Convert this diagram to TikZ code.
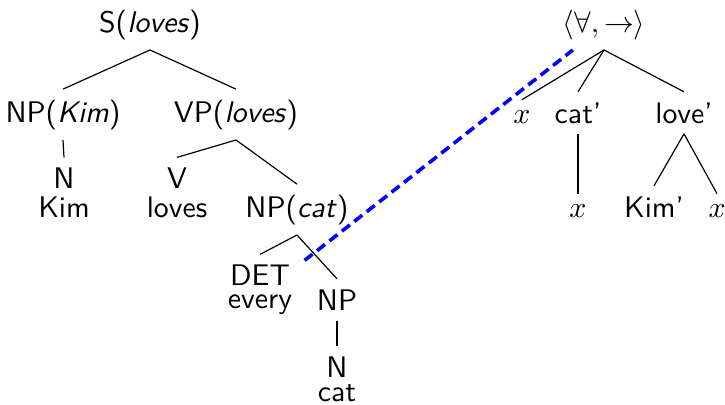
\documentclass[tikz,border=0pt]{standalone}
\usetikzlibrary{calc}
\begin{document}
\begin{tikzpicture}[x=0.3356pt,y=-0.3356pt,
  font=\sffamily,
  lab/.style={anchor=base},
  lex/.style={anchor=north,align=center},
  edge/.style={draw=black,line width=0.4pt},
  blueline/.style={draw=blue,line width=1.2pt,dash pattern=on 3.4pt off 1.9pt}]
\useasboundingbox (0,0) rectangle (725,404);
% left tree
\node[lab] (S) at (150,32) {S(\textit{loves})};
\node[lab] (NPK) at (63,122) {NP(\textit{Kim})};
\node[lab] (VP) at (236,122) {VP(\textit{loves})};
\node[lex] (NK) at (64,157.4) {N\\[-2.3pt]Kim};
\node[lex] (V) at (177,157.4) {V\\[-2.3pt]loves};
\node[lab] (NPc) at (297,217) {NP(\textit{cat})};
\node[lex] (DET) at (260,254.4) {DET\\[-4.3pt]every};
\node[lab] (NPl) at (337,310) {NP};
\node[lex] (Nl) at (337,346.4) {N\\[-4pt]cat};
\draw[edge] (S.south) -- (NPK.north);
\draw[edge] (S.south) -- (VP.north);
\draw[edge] (NPK.south) -- (NK.north);
\draw[edge] (VP.south) -- (V.north);
\draw[edge] (VP.south) -- (NPc.north);
\draw[edge] (NPc.south) -- (DET.north);
\draw[edge] (NPc.south) -- (NPl.north);
\draw[edge] (NPl.south) -- (Nl.north);
% right tree
\node[lab] (fa) at (604,32) {$\langle\forall,\rightarrow\rangle$};
\node[lab] (x1) at (522,123) {$x$};
\node[lab] (catp) at (578,123) {cat'};
\node[lab] (lovep) at (684,123) {love'};
\node[lab] (x2) at (578,217) {$x$};
\node[lab] (Kimp) at (654,217) {Kim'};
\node[lab] (x3) at (717,217) {$x$};
\draw[edge] (fa.south) -- (x1.north);
\draw[edge] (fa.south) -- (catp.north);
\draw[edge] (fa.south) -- (lovep.north);
\draw[edge] (catp.south) -- (x2.north);
\draw[edge] (lovep.south) -- (Kimp.north);
\draw[edge] (lovep.south) -- (x3.north);
% link
\coordinate (detend) at ($(DET.north east)+(2,6)$);
\coordinate (faend) at ($(fa.south west)!0.4!(fa.south)$);
\draw[blueline] (detend) -- (faend);
\end{tikzpicture}
\end{document}
